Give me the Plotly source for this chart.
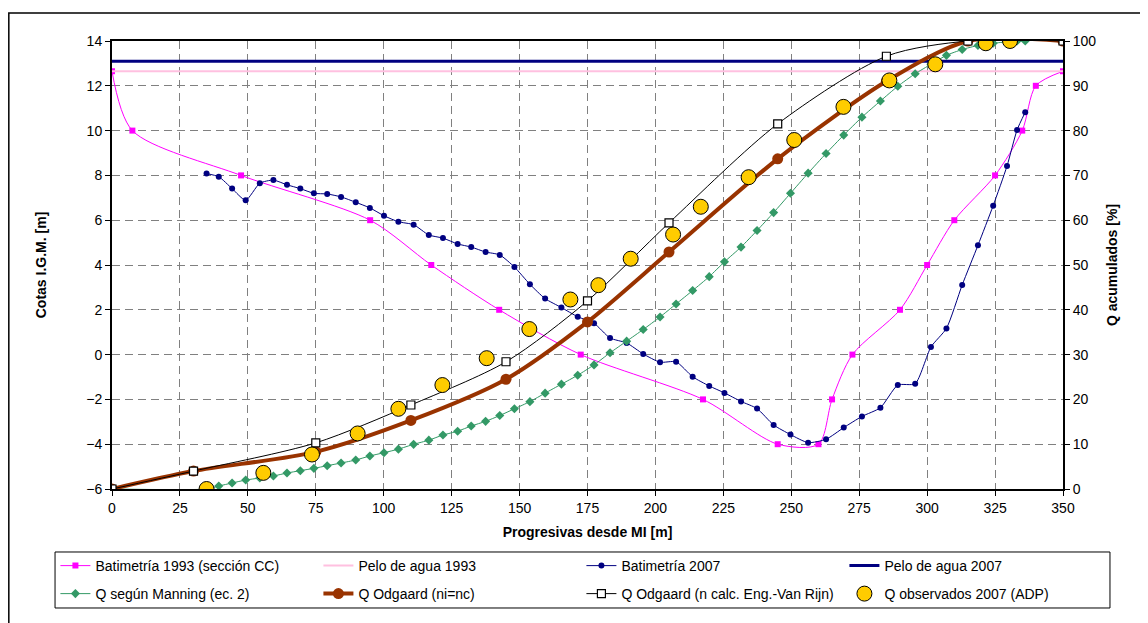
import plotly.graph_objects as go

# ---------------- data ----------------
bat93_x = [0, 7.5, 47.5, 95, 117.5, 142.5, 172.5, 217.5, 245, 260, 265, 272.5, 290, 300, 310, 325, 335, 340, 350]
bat93_y = [12.65, 10, 8, 6, 4, 2, 0, -2, -4, -4, -2, 0, 2, 4, 6, 8, 10, 12, 12.65]

pelo93_x = [0, 350]
pelo93_y = [12.65, 12.65]

bat07_x = [34.8, 39.3, 44.2, 49.2, 54.4, 59.4, 64.4, 69.3, 74.3, 79.2, 84.3, 89.7, 94.9, 100.1,
           105.4, 111.0, 116.6, 121.8, 127.2, 132.2, 137.5, 142.7, 148.1, 153.8, 159.4, 165.4,
           171.4, 177.4, 183.3, 189.4, 195.5, 201.7, 207.6, 213.7, 219.8, 225.4, 231.5, 237.4,
           243.5, 249.7, 256.2, 262.8, 269.3, 276.0, 282.8, 289.2, 295.6, 301.4, 307.1, 312.9,
           318.7, 324.3, 329.4, 333.1, 336.1]
bat07_y = [8.08, 7.94, 7.41, 6.89, 7.65, 7.79, 7.58, 7.41, 7.20, 7.17, 7.04, 6.80, 6.55, 6.20,
           5.93, 5.80, 5.34, 5.20, 4.94, 4.80, 4.58, 4.45, 3.91, 3.14, 2.50, 2.10,
           1.69, 1.40, 0.74, 0.52, 0.03, -0.34, -0.32, -0.99, -1.40, -1.71, -2.09, -2.41,
           -3.14, -3.57, -3.93, -3.78, -3.26, -2.76, -2.37, -1.36, -1.30, 0.34, 1.17, 3.11,
           4.88, 6.65, 8.42, 10.03, 10.82]

pelo07_x = [0, 350]
pelo07_y = [13.1, 13.1]

manning_x = [0, 34.8, 39.3, 44.2, 49.2, 54.4, 59.4, 64.4, 69.3, 74.3, 79.2, 84.3, 89.7, 94.9, 100.1,
             105.4, 111.0, 116.6, 121.8, 127.2, 132.2, 137.5, 142.7, 148.1, 153.8, 159.4, 165.4,
             171.4, 177.4, 183.3, 189.4, 195.5, 201.7, 207.6, 213.7, 219.8, 225.4, 231.5, 237.4,
             243.5, 249.7, 256.2, 262.8, 269.3, 276.0, 282.8, 289.2, 295.6, 301.4, 307.1, 312.9,
             318.7, 324.3, 329.4, 333.1, 336.1]
manning_q = [0, 0, 0.67, 1.34, 2.0, 2.45, 2.9, 3.57, 4.09, 4.61, 5.2, 5.8, 6.47, 7.37, 8.1,
             8.9, 9.97, 10.9, 12.05, 12.9, 14.06, 15.1, 16.4, 17.9, 19.5, 21.4, 23.4,
             25.4, 27.7, 30.4, 33.0, 35.6, 38.4, 41.3, 44.3, 47.4, 50.7, 54.0, 57.7,
             61.7, 66.0, 70.5, 74.9, 79.0, 83.0, 86.6, 89.9, 92.7, 94.8, 96.8, 98.1,
             99.0, 99.5, 99.8, 100, 100]

odg_x = [0, 30, 75, 110, 145, 175, 205, 245, 285, 315, 350]
odg_q = [0, 4.0, 8.3, 15.3, 24.5, 37.3, 52.9, 73.7, 91.0, 100, 100]

vrijn_x = [0, 30, 75, 110, 145, 175, 205, 245, 285, 315, 350]
vrijn_q = [0, 4.0, 10.3, 18.75, 28.4, 42.0, 59.4, 81.5, 96.6, 100, 100]

obs_x = [34.8, 55.7, 73.6, 90.4, 105.4, 121.6, 137.9, 153.6, 168.7, 179.0, 190.9, 206.5,
         216.7, 234.3, 251.1, 269.2, 286.1, 303.0, 321.6, 330.5]
obs_q = [0, 3.6, 7.7, 12.4, 17.9, 23.2, 29.2, 35.7, 42.3, 45.5, 51.4, 56.8,
         63.0, 69.6, 77.9, 85.3, 91.2, 94.8, 99.5, 100]

x_ticks = [0, 25, 50, 75, 100, 125, 150, 175, 200, 225, 250, 275, 300, 325, 350]
y_ticks = [-6, -4, -2, 0, 2, 4, 6, 8, 10, 12, 14]
y2_ticks = [0, 10, 20, 30, 40, 50, 60, 70, 80, 90, 100]

# ---------------- figure ----------------
FONT = "Liberation Sans, Arial, sans-serif"
fig = go.Figure()

fig.add_trace(go.Scatter(x=bat93_x, y=bat93_y, name="Batimetría 1993 (sección CC)", legend="legend",
                         mode="lines+markers", line=dict(color="#FF00FF", width=1, shape="spline", smoothing=0.8),
                         marker=dict(symbol="square", size=6, color="#FF00FF")))
fig.add_trace(go.Scatter(x=pelo93_x, y=pelo93_y, name="Pelo de agua 1993", mode="lines", legend="legend",
                         line=dict(color="#FFC0E0", width=2)))
fig.add_trace(go.Scatter(x=bat07_x, y=bat07_y, name="Batimetría 2007", mode="lines+markers", legend="legend",
                         line=dict(color="#000080", width=1, shape="spline", smoothing=0.6),
                         marker=dict(symbol="circle", size=6, color="#000080")))
fig.add_trace(go.Scatter(x=pelo07_x, y=pelo07_y, name="Pelo de agua 2007", mode="lines", legend="legend",
                         line=dict(color="#000080", width=3)))
fig.add_trace(go.Scatter(x=manning_x, y=manning_q, name="Q según Manning (ec. 2)", yaxis="y2", legend="legend2",
                         mode="lines+markers", line=dict(color="#339966", width=1, shape="spline", smoothing=0.6),
                         marker=dict(symbol="diamond", size=7, color="#339966")))
fig.add_trace(go.Scatter(x=odg_x, y=odg_q, name="Q Odgaard (ni=nc)", yaxis="y2", legend="legend2",
                         mode="lines+markers", line=dict(color="#993300", width=4, shape="spline", smoothing=0.8),
                         marker=dict(symbol="circle", size=11, color="#993300")))
fig.add_trace(go.Scatter(x=vrijn_x, y=vrijn_q, name="Q Odgaard (n calc. Eng.-Van Rijn)", yaxis="y2", legend="legend2",
                         mode="lines+markers", line=dict(color="#000000", width=1, shape="spline", smoothing=0.8),
                         marker=dict(symbol="square", size=8, color="#FFFFFF", line=dict(color="#000000", width=1.2))))
fig.add_trace(go.Scatter(x=obs_x, y=obs_q, name="Q observados 2007 (ADP)", yaxis="y2", legend="legend2",
                         mode="markers",
                         marker=dict(symbol="circle", size=15, color="#FFCC00", line=dict(color="#000000", width=1))))

grid = dict(showgrid=True, gridcolor="#808080", gridwidth=1, griddash="8px,5px")
leg = dict(orientation="h", xanchor="left", yanchor="top", x=-0.0595,
           bordercolor="rgba(0,0,0,0)", borderwidth=0, bgcolor="rgba(0,0,0,0)",
           font=dict(size=14), entrywidth=218, entrywidthmode="pixels", itemwidth=30)

fig.update_layout(
    width=1148, height=623,
    margin=dict(l=104, r=93, t=33, b=142, autoexpand=False),
    paper_bgcolor="white", plot_bgcolor="white",
    font=dict(family=FONT, size=14, color="#000000"),
    xaxis=dict(range=[0, 350], tickvals=x_ticks, ticks="outside", ticklen=5, tickcolor="#000000",
               showline=True, linecolor="#000000", linewidth=2, mirror=True, zeroline=False,
               title=dict(text="<b>Progresivas desde MI [m]</b>", font=dict(size=14), standoff=12),
               tickfont=dict(size=14), **grid),
    yaxis=dict(range=[-6, 14], tickvals=y_ticks, ticks="outside", ticklen=5, tickcolor="#000000",
               showline=True, linecolor="#000000", linewidth=2, mirror=True, zeroline=False,
               title=dict(text="<b>Cotas I.G.M. [m]</b>", font=dict(size=14), standoff=36),
               tickfont=dict(size=14), **grid),
    yaxis2=dict(range=[0, 100], tickvals=y2_ticks, overlaying="y", side="right",
                ticks="outside", ticklen=5, tickcolor="#000000", showgrid=False, zeroline=False,
                showline=True, linecolor="#000000", linewidth=2,
                title=dict(text="<b>Q acumulados [%]</b>", font=dict(size=14), standoff=12),
                tickfont=dict(size=14)),
    legend=dict(leg, y=-0.1362),
    legend2=dict(leg, y=-0.1987),
    shapes=[
        dict(type="rect", xref="paper", yref="paper", x0=-0.1085, x1=1.3, y0=-0.5, y1=1.0625,
             line=dict(color="#000000", width=1.5), fillcolor="rgba(0,0,0,0)", layer="above"),
        dict(type="rect", xref="paper", yref="paper", x0=-0.0599, x1=1.0494, y0=-0.2656, y1=-0.1406,
             line=dict(color="#000000", width=1), fillcolor="rgba(0,0,0,0)", layer="above"),
    ],
    showlegend=True,
)

fig.write_html("out.html")
